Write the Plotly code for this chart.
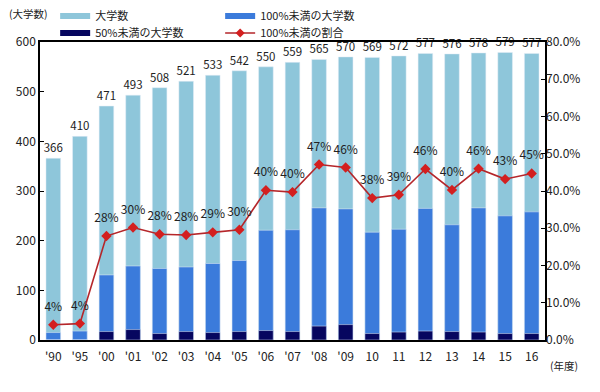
import plotly.graph_objects as go

years = ["'90", "'95", "'00", "'01", "'02", "'03", "'04", "'05", "'06", "'07",
         "'08", "'09", "10", "11", "12", "13", "14", "15", "16"]
total_univ = [366, 410, 471, 493, 508, 521, 533, 542, 550, 559, 565, 570, 569, 572, 577, 576, 578, 579, 577]
under100_univ = [15, 18, 131, 149, 144, 147, 154, 160, 221, 222, 266, 264, 217, 223, 265, 232, 266, 250, 258]
under50_univ = [0, 0, 17, 21, 13, 17, 15, 17, 19, 17, 28, 31, 13, 16, 18, 17, 16, 13, 13]
under100_rate = [4.1, 4.4, 27.9, 30.2, 28.4, 28.2, 28.9, 29.6, 40.2, 39.7, 47.1, 46.3, 38.1, 39.0, 45.9, 40.3, 46.0, 43.2, 44.7]

FONT = "Noto Sans CJK JP"
LIGHT = "#8EC6DA"
MID = "#3B7BDB"
NAVY = "#06065F"
RED_LINE = "#B5262A"
RED_MK = "#D31F1F"

fig = go.Figure()
fig.add_trace(go.Bar(x=years, y=total_univ, marker_color=LIGHT, width=0.55, opacity=1,
                     text=total_univ, textposition="outside", cliponaxis=False,
                     constraintext="none",
                     textfont=dict(size=11.5, color="#222"), showlegend=False))
fig.add_trace(go.Bar(x=years, y=under100_univ, marker_color=MID, width=0.55, opacity=1,
                     showlegend=False))
fig.add_trace(go.Bar(x=years, y=under50_univ, marker_color=NAVY, width=0.55, opacity=1,
                     showlegend=False))
fig.add_trace(go.Scatter(x=years, y=under100_rate, yaxis="y2", mode="lines+markers",
                         line=dict(color=RED_LINE, width=1.6),
                         marker=dict(symbol="diamond", size=8, color=RED_MK),
                         cliponaxis=False, showlegend=False))
# percentage labels (invisible larger marker gives the offset above each point)
fig.add_trace(go.Scatter(x=years, y=under100_rate, yaxis="y2", mode="markers+text",
                         marker=dict(size=16, opacity=0),
                         texttemplate="%{y:.0f}%", textposition="top center",
                         textfont=dict(size=12, color="#222"),
                         cliponaxis=False, showlegend=False, hoverinfo="skip"))

# legend entries
fig.add_trace(go.Scatter(x=[None], y=[None], mode="lines", line=dict(color=LIGHT, width=6),
                         name="大学数", legend="legend"))
fig.add_trace(go.Scatter(x=[None], y=[None], mode="lines", line=dict(color=MID, width=6),
                         name="100%未満の大学数", legend="legend"))
fig.add_trace(go.Scatter(x=[None], y=[None], mode="lines", line=dict(color=NAVY, width=6),
                         name="50%未満の大学数", legend="legend2"))
fig.add_trace(go.Scatter(x=[None], y=[None], mode="lines+markers",
                         line=dict(color=RED_LINE, width=1.6),
                         marker=dict(symbol="diamond", size=7, color=RED_MK),
                         name="100%未満の割合", legend="legend2"))

legend_common = dict(orientation="h", xref="paper", yref="container", xanchor="left",
                     yanchor="middle", entrywidth=120, entrywidthmode="pixels",
                     font=dict(family=FONT, size=11, color="#222"), bgcolor="rgba(0,0,0,0)",
                     itemwidth=30, tracegroupgap=0)

fig.update_layout(
    width=600, height=392,
    margin=dict(l=40, r=55, t=42, b=52, autoexpand=False),
    paper_bgcolor="white", plot_bgcolor="white",
    barmode="overlay", bargap=0.45,
    font=dict(family=FONT, size=11, color="#222"),
    legend=dict(x=0.03, y=1 - 16 / 392, **legend_common),
    legend2=dict(x=0.03, y=1 - 33 / 392, **legend_common),
    xaxis=dict(range=[-0.5, len(years) - 0.5], showline=True, linecolor="black",
               linewidth=1.5, mirror=True,
               ticks="", tickfont=dict(size=12), showgrid=False, ticklabelstandoff=5),
    yaxis=dict(range=[0, 600], dtick=100, showline=True, linecolor="black", linewidth=1.5,
               mirror=True, ticks="inside", ticklen=4, tickcolor="black",
               showgrid=False, zeroline=False, tickfont=dict(size=12)),
    yaxis2=dict(range=[0, 80], dtick=10, overlaying="y", side="right",
                tickformat=".1f", ticksuffix="%", ticks="inside", ticklen=4,
                tickcolor="black", showgrid=False, zeroline=False,
                tickfont=dict(size=12)),
    annotations=[
        dict(text="(大学数)", xref="paper", yref="paper", x=-0.022, y=326 / 298,
             xanchor="center", yanchor="middle", showarrow=False,
             font=dict(family=FONT, size=10.5, color="#222")),
        dict(text="(年度)", xref="paper", yref="paper", x=1.005, y=-0.085,
             xanchor="left", yanchor="middle", showarrow=False,
             font=dict(family=FONT, size=10.5, color="#222")),
    ],
)

fig.write_html("out.html", config={"displayModeBar": False},
               post_script="document.body.style.margin='0';")
